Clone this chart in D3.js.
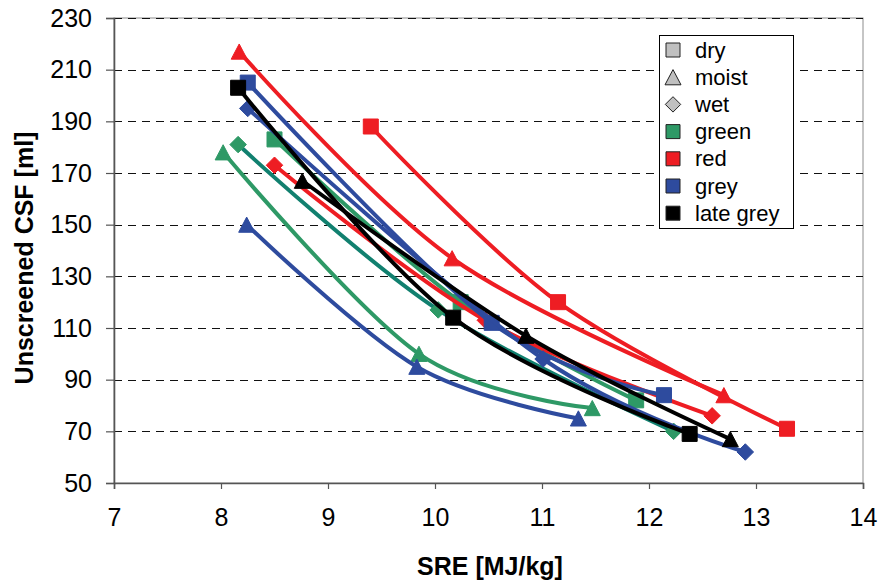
<!DOCTYPE html>
<html>
<head>
<meta charset="utf-8">
<script src="https://cdn.jsdelivr.net/npm/d3@7/dist/d3.min.js"></script>
<style>
  html, body { margin: 0; padding: 0; background: #fff; }
  svg { display: block; font-family: Arial, "Liberation Sans", sans-serif; }
</style>
</head>
<body>
<svg id="chart" width="878" height="581"></svg>
<script>
// ---- data (SRE [MJ/kg], Unscreened CSF [ml]) ----
const xTicks = [7, 8, 9, 10, 11, 12, 13, 14];
const yTicks = [50, 70, 90, 110, 130, 150, 170, 190, 210, 230];

const greenDry   = [[8.50, 183], [10.24, 120], [11.88, 82]];
const greenMoist = [[8.02, 178], [9.85, 100], [11.47, 79]];
const greenWet   = [[8.16, 181], [10.03, 117], [12.23, 70]];
const redDry     = [[9.40, 188], [11.15, 120], [13.29, 71]];
const redMoist   = [[8.17, 217], [10.16, 137], [12.70, 84]];
const redWet     = [[8.50, 173], [10.47, 113], [12.59, 76]];
const greyDry    = [[8.25, 205], [10.53, 112], [12.14, 84]];
const greyMoist  = [[8.24, 150], [9.83, 95], [11.34, 75]];
const greyWet    = [[8.25, 195], [11.01, 98], [12.90, 62]];
const lateDry    = [[8.16, 203], [10.17, 114], [12.38, 69]];
const lateMoist  = [[8.76, 167], [10.85, 107], [12.76, 67]];

const legendShapes = ["dry", "moist", "wet"];
const legendColors = ["green", "red", "grey", "late grey"];

// ---- styles ----
const colorOf = { green: "#2E9966", red: "#EE1D23", grey: "#2E4B9E", "late grey": "#000000" };
const series = [
  { data: greenDry,   group: "green", shape: "dry" },
  { data: greenMoist, group: "green", shape: "moist" },
  { data: greenWet,   group: "green", shape: "wet", line: "#11806F" },
  { data: redDry,     group: "red",   shape: "dry" },
  { data: redMoist,   group: "red",   shape: "moist" },
  { data: redWet,     group: "red",   shape: "wet" },
  { data: greyDry,    group: "grey",  shape: "dry" },
  { data: greyMoist,  group: "grey",  shape: "moist" },
  { data: greyWet,    group: "grey",  shape: "wet" },
  { data: lateDry,    group: "late grey", shape: "dry" },
  { data: lateMoist,  group: "late grey", shape: "moist" }
];

const svg = d3.select("#chart");
svg.append("rect").attr("width", 878).attr("height", 581).attr("fill", "#fff");

const L = 114, R = 863, T = 18, B = 483;
const x = d3.scaleLinear().domain([7, 14]).range([L, R]);
const y = d3.scaleLinear().domain([50, 230]).range([B, T]);

// plot border (grey)
svg.append("rect").attr("x", L).attr("y", T).attr("width", R - L).attr("height", B - T)
  .attr("fill", "none").attr("stroke", "#8c8c8c").attr("stroke-width", 1);

// gridlines
svg.append("g").selectAll("line").data(yTicks.filter(v => v !== 50)).join("line")
  .attr("x1", L).attr("x2", R)
  .attr("y1", d => Math.round(y(d)) + 0.5).attr("y2", d => Math.round(y(d)) + 0.5)
  .attr("stroke", "#111").attr("stroke-width", 1).attr("stroke-dasharray", "8,6");

// axes
const fs = 25;
const gy = svg.append("g").attr("transform", `translate(${L},0)`)
  .call(d3.axisLeft(y).tickValues(yTicks).tickSize(8).tickPadding(14).tickFormat(d3.format("d")));
const gx = svg.append("g").attr("transform", `translate(0,${B})`)
  .call(d3.axisBottom(x).tickValues(xTicks).tickSize(6).tickPadding(19).tickFormat(d3.format("d")));
[gx, gy].forEach(g => {
  g.select(".domain").attr("stroke", "#555").attr("stroke-width", 1.6);
  g.selectAll(".tick line").attr("stroke", "#555").attr("stroke-width", 1.2);
  g.selectAll(".tick text").attr("fill", "#000").style("font-size", fs + "px")
    .style("font-family", "Arial, 'Liberation Sans', sans-serif");
});

// axis titles
svg.append("text").attr("x", 490).attr("y", 575).attr("text-anchor", "middle")
  .style("font-size", "25px").style("font-weight", "bold").text("SRE [MJ/kg]");
svg.append("text").attr("transform", "translate(33,258) rotate(-90)").attr("text-anchor", "middle")
  .style("font-size", "25px").style("font-weight", "bold").text("Unscreened CSF [ml]");

// marker path generator
function markerPath(shape, cx, cy, s) {
  if (shape === "dry") {
    const h = s / 2;
    return `M${cx - h},${cy - h}h${s}v${s}h${-s}Z`;
  } else if (shape === "moist") {
    const w = s * 1.0, h = s * 0.95;
    return `M${cx},${cy - h / 2}L${cx + w / 2},${cy + h / 2}L${cx - w / 2},${cy + h / 2}Z`;
  } else {
    const h = s * 0.55;
    return `M${cx},${cy - h}L${cx + h},${cy}L${cx},${cy + h}L${cx - h},${cy}Z`;
  }
}

const line = d3.line().x(d => x(d[0])).y(d => y(d[1])).curve(d3.curveCatmullRom.alpha(0));

const plot = svg.append("g");
series.forEach(s => {
  const c = colorOf[s.group];
  const g = plot.append("g");
  g.append("path").attr("d", line(s.data)).attr("fill", "none")
    .attr("stroke", s.line || c).attr("stroke-width", 4).attr("stroke-linejoin", "round");
  g.selectAll("path.m").data(s.data).join("path").attr("class", "m")
    .attr("d", d => markerPath(s.shape, x(d[0]), y(d[1]), s.shape === "moist" ? 16 : 15))
    .attr("fill", c).attr("stroke", c).attr("stroke-width", 1);
});

// legend
const lg = svg.append("g");
lg.append("rect").attr("x", 659.5).attr("y", 35.5).attr("width", 134).attr("height", 193)
  .attr("fill", "#fff").attr("stroke", "#000").attr("stroke-width", 1);
const entries = legendShapes.map(s => ({ label: s, shape: s, fill: "#C0C0C0" }))
  .concat(legendColors.map(c => ({ label: c, shape: "dry", fill: colorOf[c] })));
entries.forEach((e, i) => {
  const cy = 50 + i * 27.2;
  lg.append("path").attr("d", markerPath(e.shape, 673, cy, e.shape === "moist" ? 16 : 14))
    .attr("fill", e.fill).attr("stroke", "#222").attr("stroke-width", 1);
  lg.append("text").attr("x", 695).attr("y", cy + 7.5).style("font-size", "22px").text(e.label);
});
</script>
</body>
</html>
